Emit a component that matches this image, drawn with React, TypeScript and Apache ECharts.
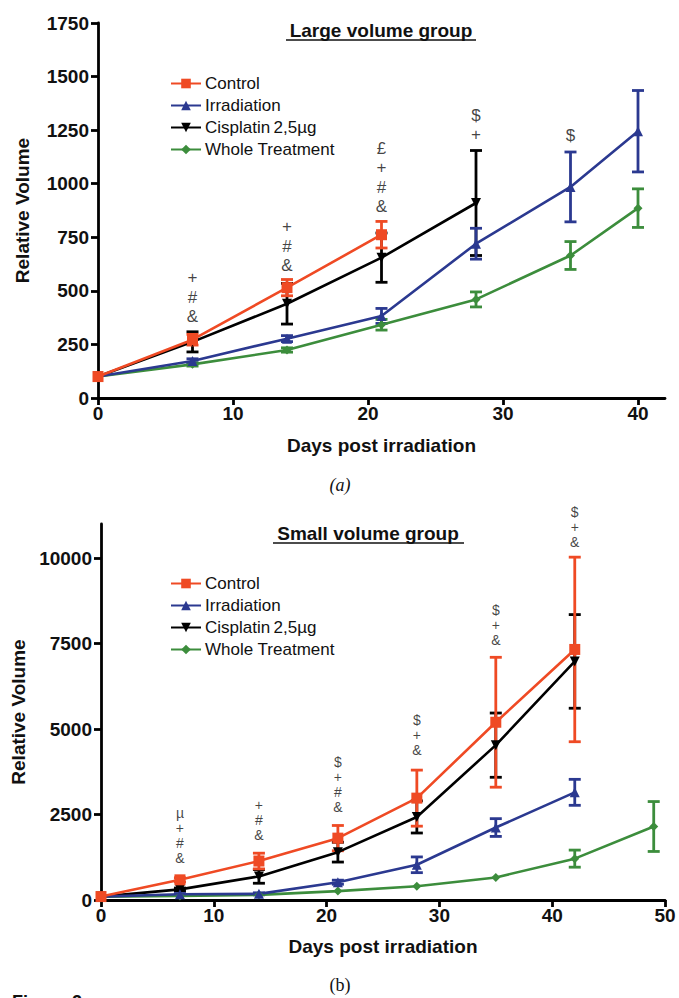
import React, { useEffect, useRef } from "react";
import * as echarts from "echarts";

// ---------- names ----------
const NAME_CONTROL = "Control";
const NAME_IRR = "Irradiation";
const NAME_CIS = "Cisplatin\u20092,5µg";
const NAME_WHOLE = "Whole Treatment";
const LEGEND_ORDER = [NAME_CONTROL, NAME_IRR, NAME_CIS, NAME_WHOLE];

// ---------- (a) Large volume group ----------
const controlDaysA = [0, 7, 14, 21];
const controlA = [100, 272, 515, 762];
const controlErrA = [0, 25, 38, 62];

const cisDaysA = [0, 7, 14, 21, 28];
const cisA = [100, 262, 440, 655, 910];
const cisErrA = [0, 47, 95, 115, 245];

const irrDaysA = [0, 7, 14, 21, 28, 35, 40];
const irrA = [100, 173, 277, 383, 720, 985, 1245];
const irrErrA = [0, 10, 14, 35, 72, 163, 190];

const wholeDaysA = [0, 7, 14, 21, 28, 35, 40];
const wholeA = [100, 157, 224, 342, 460, 665, 886];
const wholeErrA = [0, 8, 10, 25, 35, 65, 90];

const annotDaysA = [7, 14, 21, 28, 35];
const annotTextA = ["+\n#\n&", "+\n#\n&", "£\n+\n#\n&", "$\n+", "$"];
const annotBaseA = [331, 569, 844, 1180, 1175];

const xTicksA = [0, 10, 20, 30, 40];
const yTicksA = [0, 250, 500, 750, 1000, 1250, 1500, 1750];

// ---------- (b) Small volume group ----------
const controlDaysB = [0, 7, 14, 21, 28, 35, 42];
const controlB = [100, 590, 1140, 1810, 2980, 5200, 7330];
const controlErrB = [0, 60, 230, 370, 820, 1900, 2700];

const cisDaysB = [0, 7, 14, 21, 28, 35, 42];
const cisB = [100, 310, 690, 1400, 2430, 4530, 6980];
const cisErrB = [0, 40, 200, 290, 470, 940, 1370];

const irrDaysB = [0, 7, 14, 21, 28, 35, 42];
const irrB = [100, 170, 180, 520, 1030, 2120, 3150];
const irrErrB = [0, 20, 30, 60, 230, 260, 380];

const wholeDaysB = [0, 7, 14, 21, 28, 35, 42, 49];
const wholeB = [100, 120, 150, 260, 400, 660, 1210, 2150];
const wholeErrB = [0, 0, 0, 0, 0, 0, 250, 730];

const annotDaysB = [7, 14, 21, 28, 35, 42];
const annotTextB = ["µ\n+\n#\n&", "+\n#\n&", "$\n+\n#\n&", "$\n+\n&", "$\n+\n&", "$\n+\n&"];
const annotBaseB = [1009, 1681, 2500, 4167, 7383, 10249];

const xTicksB = [0, 10, 20, 30, 40, 50];
const yTicksB = [0, 2500, 5000, 7500, 10000];

// ---------- styles ----------
const RED = "#EF4A24";
const BLUE = "#2B3990";
const BLACK = "#000000";
const GREEN = "#3C8D3C";
const FONT = "'Liberation Sans', Arial, Helvetica, sans-serif";

type SeriesDef = {
  name: string;
  days: number[];
  vals: number[];
  errs: number[];
  color: string;
  symbol: string;
  size: number;
  rotate?: number;
};

function buildSeries(g: number, defs: SeriesDef[], capHalf: number) {
  const out: any[] = [];
  defs.forEach((d) => {
    out.push({
      type: "line",
      name: d.name,
      xAxisIndex: g,
      yAxisIndex: g,
      data: d.days.map((x, i) => [x, d.vals[i]]),
      symbol: d.symbol,
      symbolSize: d.size,
      symbolRotate: d.rotate || 0,
      showSymbol: true,
      itemStyle: { color: d.color },
      lineStyle: { color: d.color, width: 2.6 },
      silent: true,
    });
    out.push({
      type: "custom",
      name: d.name + " SEM",
      xAxisIndex: g,
      yAxisIndex: g,
      silent: true,
      encode: { x: 0, y: [1, 2] },
      data: d.days
        .map((x, i) => [x, d.vals[i] - d.errs[i], d.vals[i] + d.errs[i]])
        .filter((e) => e[2] > e[1]),
      renderItem: (params: any, api: any) => {
        const x = api.value(0);
        const lo = api.coord([x, api.value(1)]);
        const hi = api.coord([x, api.value(2)]);
        const st = { stroke: d.color, lineWidth: 2.8 };
        return {
          type: "group",
          children: [
            { type: "line", shape: { x1: lo[0], y1: lo[1], x2: hi[0], y2: hi[1] }, style: st },
            { type: "line", shape: { x1: lo[0] - capHalf, y1: lo[1], x2: lo[0] + capHalf, y2: lo[1] }, style: st },
            { type: "line", shape: { x1: hi[0] - capHalf, y1: hi[1], x2: hi[0] + capHalf, y2: hi[1] }, style: st },
          ],
        };
      },
    });
  });
  return out;
}

function annotSeries(g: number, days: number[], base: number[], texts: string[], fontSize: number, lineHeight: number) {
  return {
    type: "scatter",
    name: "annot" + g,
    xAxisIndex: g,
    yAxisIndex: g,
    symbolSize: 1,
    itemStyle: { color: "rgba(0,0,0,0)" },
    silent: true,
    z: 10,
    data: days.map((x, i) => ({ name: texts[i], value: [x, base[i]] })),
    label: {
      show: true,
      position: "top",
      distance: 0,
      formatter: "{b}",
      fontSize,
      lineHeight,
      color: "#111",
      fontFamily: FONT,
      align: "center",
    },
  };
}

function axisCommon() {
  return {
    axisLine: { show: true, lineStyle: { color: "#000", width: 2.8 } },
    axisTick: { show: true, length: 7, lineStyle: { color: "#000", width: 2.8 } },
    splitLine: { show: false },
    axisLabel: {
      fontSize: 19,
      fontWeight: "bold",
      color: "#111",
      fontFamily: FONT,
      formatter: (v: number) => String(v),
    },
    nameTextStyle: { fontSize: 19, fontWeight: "bold", color: "#111", fontFamily: FONT },
    nameLocation: "middle",
  };
}

export default function App() {
  const ref = useRef<HTMLDivElement>(null);

  useEffect(() => {
    if (!ref.current) return;
    const chart = echarts.init(ref.current, undefined, { renderer: "svg" });

    const defsA: SeriesDef[] = [
      { name: NAME_CIS, days: cisDaysA, vals: cisA, errs: cisErrA, color: BLACK, symbol: "triangle", size: 10, rotate: 180 },
      { name: NAME_WHOLE, days: wholeDaysA, vals: wholeA, errs: wholeErrA, color: GREEN, symbol: "diamond", size: 9 },
      { name: NAME_IRR, days: irrDaysA, vals: irrA, errs: irrErrA, color: BLUE, symbol: "triangle", size: 10 },
      { name: NAME_CONTROL, days: controlDaysA, vals: controlA, errs: controlErrA, color: RED, symbol: "rect", size: 11 },
    ];
    const defsB: SeriesDef[] = [
      { name: NAME_CIS, days: cisDaysB, vals: cisB, errs: cisErrB, color: BLACK, symbol: "triangle", size: 10, rotate: 180 },
      { name: NAME_WHOLE, days: wholeDaysB, vals: wholeB, errs: wholeErrB, color: GREEN, symbol: "diamond", size: 9 },
      { name: NAME_IRR, days: irrDaysB, vals: irrB, errs: irrErrB, color: BLUE, symbol: "triangle", size: 10 },
      { name: NAME_CONTROL, days: controlDaysB, vals: controlB, errs: controlErrB, color: RED, symbol: "rect", size: 11 },
    ];

    const c = axisCommon();
    const legendCommon = {
      orient: "vertical",
      left: 165,
      itemWidth: 30,
      itemHeight: 12,
      itemGap: 5,
      data: LEGEND_ORDER,
      selectedMode: false,
      textStyle: { fontSize: 17, lineHeight: 17, color: "#111", fontFamily: FONT, padding: [0, 0, 0, -1] },
    };

    const titleStyle = { fontSize: 19, fontWeight: "bold", fill: "#111", fontFamily: FONT };

    chart.setOption({
      animation: false,
      backgroundColor: "#ffffff",
      grid: [
        { left: 98, top: 23, width: 567, height: 375, outerBoundsMode: "none", containLabel: false },
        { left: 101, top: 524, width: 564, height: 376, outerBoundsMode: "none", containLabel: false },
      ],
      xAxis: [
        {
          ...c,
          gridIndex: 0,
          type: "value",
          min: 0,
          max: 42,
          interval: 10,
          name: "Days post irradiation",
          nameGap: 38,
          axisTick: { ...c.axisTick, customValues: xTicksA },
          axisLabel: { ...c.axisLabel, margin: 6, customValues: xTicksA },
        },
        {
          ...c,
          gridIndex: 1,
          type: "value",
          min: 0,
          max: 50,
          interval: 10,
          name: "Days post irradiation",
          nameGap: 37,
          axisTick: { ...c.axisTick, customValues: xTicksB },
          axisLabel: { ...c.axisLabel, margin: 6, customValues: xTicksB },
        },
      ],
      yAxis: [
        {
          ...c,
          gridIndex: 0,
          type: "value",
          min: 0,
          max: 1750,
          interval: 250,
          name: "Relative Volume",
          nameGap: 66,
          axisTick: { ...c.axisTick, customValues: yTicksA },
          axisLabel: { ...c.axisLabel, margin: 9, customValues: yTicksA },
        },
        {
          ...c,
          gridIndex: 1,
          type: "value",
          min: 0,
          max: 11000,
          interval: 2500,
          name: "Relative Volume",
          nameGap: 70,
          axisTick: { ...c.axisTick, customValues: yTicksB },
          axisLabel: { ...c.axisLabel, margin: 9, customValues: yTicksB },
        },
      ],
      legend: [
        { ...legendCommon, top: 70 },
        { ...legendCommon, top: 570 },
      ],
      series: [
        ...buildSeries(0, defsA, 6),
        annotSeries(0, annotDaysA, annotBaseA, annotTextA, 17, 19.5),
        ...buildSeries(1, defsB, 6),
        annotSeries(1, annotDaysB, annotBaseB, annotTextB, 14, 15),
      ],
      graphic: [
        { type: "text", x: 381, y: 30, style: { ...titleStyle, text: "Large volume group", align: "center", verticalAlign: "middle" } },
        { type: "line", shape: { x1: 286, y1: 40, x2: 476, y2: 40 }, style: { stroke: "#111", lineWidth: 1.5 } },
        { type: "text", x: 368, y: 533, style: { ...titleStyle, text: "Small volume group", align: "center", verticalAlign: "middle" } },
        { type: "line", shape: { x1: 273, y1: 543, x2: 464, y2: 543 }, style: { stroke: "#111", lineWidth: 1.5 } },
        { type: "text", x: 340, y: 485, style: { text: "(a)", fontSize: 18, fontStyle: "italic", fontFamily: "'Liberation Serif', 'Times New Roman', serif", fill: "#111", align: "center", verticalAlign: "middle" } },
        { type: "text", x: 340, y: 985, style: { text: "(b)", fontSize: 18, fontFamily: "'Liberation Serif', 'Times New Roman', serif", fill: "#111", align: "center", verticalAlign: "middle" } },
        { type: "text", x: 12, y: 993, style: { text: "Figure 2", fontSize: 18, fontWeight: "bold", fontFamily: FONT, fill: "#111", align: "left", verticalAlign: "top" } },
      ],
    });

    return () => chart.dispose();
  }, []);

  return (
    <div
      ref={ref}
      style={{ position: "absolute", left: 0, top: 0, width: 679, height: 998, background: "#fff" }}
    />
  );
}
